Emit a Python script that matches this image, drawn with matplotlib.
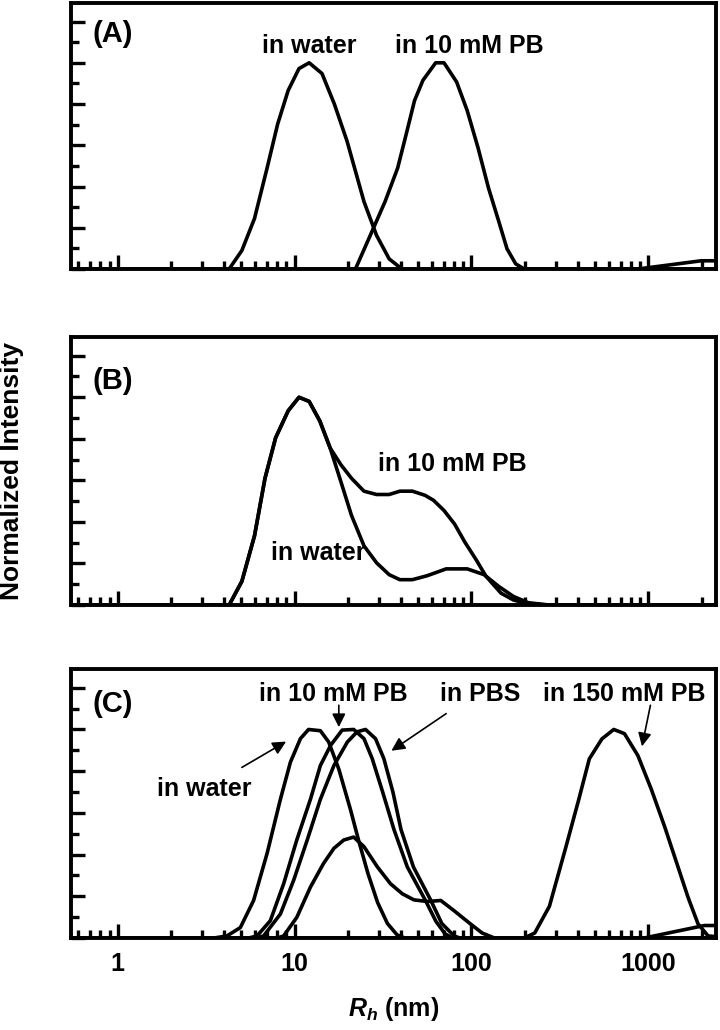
import matplotlib
matplotlib.use("Agg")
import matplotlib.pyplot as plt
from matplotlib.ticker import FixedLocator, MultipleLocator, NullFormatter

plt.rcParams["font.family"] = ["Liberation Sans", "DejaVu Sans"]
plt.rcParams["font.weight"] = "bold"
plt.rcParams["mathtext.fontset"] = "custom"
plt.rcParams["mathtext.it"] = "Liberation Sans:italic:bold"
plt.rcParams["mathtext.rm"] = "Liberation Sans:bold"

# Panel A
a_water_r = [0.5, 4.27, 5.04, 5.94, 7.0, 8.03, 9.21, 10.6, 12.1, 14.3, 16.8, 19.8, 24.7, 29.1, 34.3, 40.5, 3000]
a_water_i = [0, 0, 0.09, 0.245, 0.49, 0.703, 0.866, 0.972, 1.0, 0.948, 0.80, 0.621, 0.327, 0.163, 0.049, 0, 0]
a_pb_r = [0.5, 22.1, 26.8, 32.5, 38.3, 42.8, 47.7, 53.2, 62.8, 70.0, 82.5, 94.7, 109, 125, 143, 159, 178, 199,
          871, 1990, 3000]
a_pb_i = [0, 0, 0.163, 0.327, 0.49, 0.654, 0.817, 0.915, 1.0, 1.0, 0.907, 0.768, 0.588, 0.392, 0.229, 0.098, 0.025, 0,
          0, 0.04, 0.04]

# Panel B
b_water_r = [0.5, 4.27, 5.04, 5.94, 6.81, 7.82, 9.21, 10.6, 12.1, 13.9, 15.9, 18.3, 21.0, 24.7, 29.1, 34.3, 39.4,
             46.4, 56.2, 72.0, 94.7, 118, 143, 173, 210, 275, 3000]
b_water_i = [0, 0, 0.114, 0.333, 0.61, 0.805, 0.935, 1.0, 0.98, 0.886, 0.756, 0.593, 0.431, 0.285, 0.203, 0.146,
             0.122, 0.122, 0.141, 0.174, 0.174, 0.146, 0.089, 0.041, 0.011, 0, 0]
b_pb_r = [0.5, 4.27, 5.04, 5.94, 6.81, 7.82, 9.21, 10.6, 12.1, 13.9, 15.9, 18.3, 21.0, 24.7, 29.1, 34.3, 39.4,
          46.4, 54.7, 61.1, 70.0, 80.3, 92.1, 106, 121, 147, 173, 210, 275, 3000]
b_pb_i = [0, 0, 0.114, 0.333, 0.61, 0.805, 0.935, 1.0, 0.98, 0.886, 0.756, 0.675, 0.61, 0.548, 0.532, 0.532,
          0.548, 0.548, 0.528, 0.504, 0.455, 0.39, 0.301, 0.22, 0.138, 0.057, 0.024, 0.005, 0, 0]

# Panel C
c_water_r = [0.5, 3.5, 4.15, 4.94, 5.87, 7.0, 8.32, 9.48, 10.8, 12.0, 14.0, 15.6, 17.8, 20.7, 23.0, 26.0, 29.5,
             33.5, 38.0, 42.0, 3000]
c_water_i = [0, 0, 0.01, 0.05, 0.18, 0.406, 0.665, 0.843, 0.956, 1.0, 0.994, 0.94, 0.81, 0.617, 0.47, 0.31, 0.17,
             0.07, 0.015, 0, 0]
c_pb10_r = [0.5, 5.5, 6.14, 7.3, 8.68, 10.3, 12.3, 14.0, 16.0, 18.6, 21.6, 24.7, 27.5, 31.5, 36.5, 43.4, 55.0,
            63.0, 71.0, 78, 3000]
c_pb10_i = [0, 0, 0.01, 0.083, 0.26, 0.47, 0.665, 0.827, 0.924, 0.997, 1.0, 0.956, 0.86, 0.70, 0.52, 0.341, 0.18,
            0.08, 0.02, 0, 0]
c_pbs_r = [0.5, 6.0, 6.69, 8.32, 9.89, 11.8, 14.0, 16.7, 19.9, 22.6, 25.2, 28.7, 32.0, 36.0, 40.0, 47.0, 59.0,
           68.0, 79.8, 86, 948, 2075, 3000]
c_pbs_i = [0, 0, 0.01, 0.115, 0.277, 0.47, 0.665, 0.827, 0.94, 0.989, 1.0, 0.956, 0.86, 0.70, 0.52, 0.341,
           0.18, 0.07, 0.01, 0, 0, 0.06, 0.06]
c_minor_r = [0.5, 8.0, 8.68, 10.3, 12.3, 14.6, 16.7, 19.0, 21.6, 24.7, 29.4, 34.9, 40.7, 47.3, 56.4, 67.1, 79.8,
             97.3, 115, 135, 3000]
c_minor_i = [0, 0, 0.01, 0.099, 0.244, 0.358, 0.43, 0.47, 0.484, 0.438, 0.341, 0.26, 0.212, 0.183, 0.175, 0.18,
             0.131, 0.072, 0.024, 0, 0]
c_pb150_r = [0.5, 199, 228, 276, 343, 405, 464, 547, 638, 733, 873, 1039, 1236, 1472, 1676, 1910, 2177, 3000]
c_pb150_i = [0, 0, 0.024, 0.152, 0.44, 0.666, 0.859, 0.955, 1.0, 0.98, 0.875, 0.714, 0.535, 0.341, 0.196, 0.068,
             0.01, 0]

x_ticks = [1, 10, 100, 1000]
x_tick_labels = ["1", "10", "100", "1000"]

fig = plt.figure(figsize=(7.2, 10.3), dpi=100)
left, width = 0.098, 0.8965
ax_a = fig.add_axes([left, 0.7388, width, 0.2583])
ax_b = fig.add_axes([left, 0.4126, width, 0.2602])
ax_c = fig.add_axes([left, 0.0893, width, 0.2612])

minor_x = [k * 10.0 ** e for e in range(-1, 4) for k in range(2, 10)]


def style(ax, labels):
    ax.set_xscale("log")
    ax.set_xlim(0.542, 2415)
    ax.set_ylim(0, 1.29)
    ax.xaxis.set_major_locator(FixedLocator(x_ticks))
    ax.xaxis.set_minor_locator(FixedLocator(minor_x))
    ax.xaxis.set_minor_formatter(NullFormatter())
    ax.yaxis.set_major_locator(MultipleLocator(0.2))
    ax.yaxis.set_minor_locator(MultipleLocator(0.1))
    ax.tick_params(which="both", direction="in", top=False, right=False, width=2.4, labelsize=18, pad=10)
    ax.tick_params(which="major", length=10)
    ax.tick_params(which="minor", length=5.5)
    ax.set_yticklabels([])
    if labels:
        ax.set_xticklabels(x_tick_labels)
    else:
        ax.set_xticklabels([])
    for s in ax.spines.values():
        s.set_linewidth(2.8)


lw = 2.6
txt = dict(fontsize=18, fontweight="bold", ha="center", va="center")
panel = dict(fontsize=21, fontweight="bold", ha="left", va="center")
arrow = dict(arrowstyle="-|>", color="black", lw=1.2, mutation_scale=20, shrinkA=0, shrinkB=0)

# (A)
ax_a.plot(a_water_r, a_water_i, color="black", lw=lw)
ax_a.plot(a_pb_r, a_pb_i, color="black", lw=lw)
style(ax_a, False)
ax_a.text(0.72, 1.14, "(A)", **panel)
ax_a.text(12.1, 1.08, "in water", **txt)
ax_a.text(97, 1.08, "in 10 mM PB", **txt)

# (B)
ax_b.plot(b_water_r, b_water_i, color="black", lw=lw)
ax_b.plot(b_pb_r, b_pb_i, color="black", lw=lw)
style(ax_b, False)
ax_b.text(0.72, 1.08, "(B)", **panel)
ax_b.text(78, 0.68, "in 10 mM PB", **txt)
ax_b.text(13.7, 0.25, "in water", **txt)

# (C)
for r, i in [(c_water_r, c_water_i), (c_pb10_r, c_pb10_i), (c_pbs_r, c_pbs_i),
             (c_minor_r, c_minor_i), (c_pb150_r, c_pb150_i)]:
    ax_c.plot(r, i, color="black", lw=lw)
style(ax_c, True)
ax_c.text(0.72, 1.12, "(C)", **panel)
ax_c.text(16.6, 1.17, "in 10 mM PB", **txt)
ax_c.text(112, 1.17, "in PBS", **txt)
ax_c.text(728, 1.17, "in 150 mM PB", **txt)
ax_c.text(3.08, 0.716, "in water", **txt)
ax_c.annotate("", xy=(8.96, 0.942), xytext=(5.04, 0.818), arrowprops=arrow)
ax_c.annotate("", xy=(17.8, 1.011), xytext=(17.8, 1.116), arrowprops=arrow)
ax_c.annotate("", xy=(35.3, 0.898), xytext=(72, 1.076), arrowprops=arrow)
ax_c.annotate("", xy=(921, 0.919), xytext=(1028, 1.116), arrowprops=arrow)

ax_c.set_xlabel(r"$R_h$ (nm)", fontsize=18, fontweight="bold", labelpad=14)
fig.text(0.016, 0.543, "Normalized Intensity", rotation=90, fontsize=19, fontweight="bold",
         ha="center", va="center")

fig.savefig("out.png", dpi=100)
